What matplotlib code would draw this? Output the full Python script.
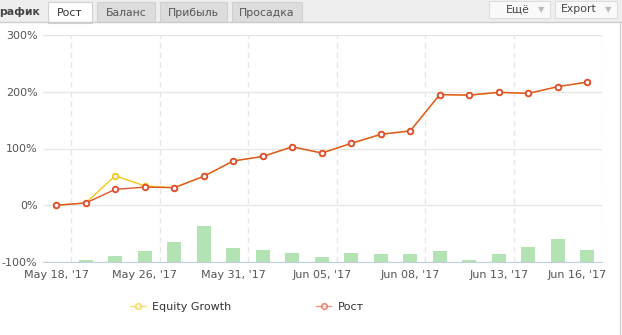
import matplotlib
matplotlib.use("Agg")
import matplotlib.pyplot as plt
import numpy as np
from matplotlib.patches import Rectangle
from matplotlib.lines import Line2D
from matplotlib.transforms import ScaledTranslation

# ---- data ----
growth = [0, 4, 28, 32, 31, 51, 78, 86, 103, 92, 109, 125, 131, 195, 194, 199, 197, 209, 217]
equity = [0, 4, 52, 34, 31, 51, 78, 86, 103, 92, 109, 125, 131, 195, 194, 199, 197, 209, 217]
bars = [0, 3, 10, 19, 35, 63, 24, 21, 16, 8, 16, 14, 14, 19, 4, 14, 26, 40, 21]
tick_idx = [0, 3, 6, 9, 12, 15, 18]
tick_labels = ["May 18, '17", "May 26, '17", "May 31, '17", "Jun 05, '17",
               "Jun 08, '17", "Jun 13, '17", "Jun 16, '17"]
yticks = [-100, 0, 100, 200, 300]
ytick_labels = ["-100%", "0%", "100%", "200%", "300%"]
tabs = ["Рост", "Баланс", "Прибыль", "Просадка"]

W, H = 622, 335
fig = plt.figure(figsize=(W / 100, H / 100), dpi=100)
fig.patch.set_facecolor("white")

def px(x, y):
    return x / W, 1 - y / H

# ---- top tab bar ----
fig.patches.append(Rectangle((0, 1 - 22 / H), 1, 22 / H, transform=fig.transFigure,
                             facecolor="#eeeeee", edgecolor="none", zorder=0))
fig.add_artist(Line2D([0, 1], [1 - 22 / H] * 2, transform=fig.transFigure, color="#cccccc", lw=1))
fig.add_artist(Line2D([620 / W] * 2, [0, 1 - 22 / H], transform=fig.transFigure, color="#d0d0d0", lw=1))
fig.text(*px(-1, 12), "рафик", fontsize=7.8, fontweight="bold", color="#444444",
         ha="left", va="center")
tab_x = [(48, 92), (97, 155), (160, 227), (232, 302)]
for i, (name, (x0, x1)) in enumerate(zip(tabs, tab_x)):
    fc = "white" if i == 0 else "#dcdcdc"
    y0 = 2
    y1 = 23 if i == 0 else 22
    fig.patches.append(Rectangle(px(x0, y1), (x1 - x0) / W, (y1 - y0) / H,
                                 transform=fig.transFigure, facecolor=fc,
                                 edgecolor="#d0d0d0", lw=0.8, zorder=1))
    fig.text(*px((x0 + x1) / 2, 12.5), name, fontsize=7.8,
             color="#333333" if i == 0 else "#555555", ha="center", va="center", zorder=2)
for (x0, x1, label) in [(489, 550, "Ещё"), (555, 617, "Export")]:
    fig.patches.append(Rectangle(px(x0, 18), (x1 - x0) / W, 17 / H, transform=fig.transFigure,
                                 facecolor="#f9f9f9", edgecolor="#dddddd", lw=0.8, zorder=1))
    fig.text(*px(x1 - 20, 9.5), label, fontsize=7.8, color="#444444",
             ha="right", va="center", zorder=2)
    fig.text(*px(x1 - 9, 9.5), "▼", fontsize=6, color="#bbbbbb",
             ha="center", va="center", zorder=2)

# ---- main plot ----
ax = fig.add_axes([43 / W, 1 - 262 / H, (602 - 43) / W, (262 - 35) / H])
x = np.arange(len(growth))
ax.bar(x, bars, bottom=-100, width=0.47, color="#b3e2b3", zorder=2)
ax.plot(x, equity, color="#f5c518", lw=1.0, marker="o", ms=4.0, mfc="white",
        mec="#f5c518", mew=1.3, zorder=3, label="Equity Growth")
ax.plot(x, growth, color="#e0552b", lw=1.0, marker="o", ms=4.0, mfc="white",
        mec="#e04a30", mew=1.3, zorder=4, label="Рост")

ax.set_xlim(-0.45, 18.5)
ax.set_ylim(-100, 300)
ax.set_yticks(yticks)
ax.set_yticklabels(ytick_labels)
ax.set_xticks(tick_idx)
ax.set_xticklabels(tick_labels)
ax.set_xticks(np.arange(0.5, 19, 3), minor=True)
ax.tick_params(axis="both", which="both", length=0, colors="#555555")
ax.tick_params(axis="y", labelsize=8, pad=4)
ax.tick_params(axis="x", labelsize=8, pad=6)
ax.grid(axis="y", which="major", color="#e6e6e6", lw=1, zorder=0)
ax.grid(axis="x", which="minor", color="#e6e6e6", lw=1, ls=(0, (4, 3)), zorder=0)
ax.grid(axis="x", which="major", visible=False)
for s in ["top", "left", "right"]:
    ax.spines[s].set_visible(False)
ax.spines["bottom"].set_color("#c0d0e0")
ax.set_axisbelow(True)
last = ax.get_xticklabels()[-1]
last.set_transform(last.get_transform() + ScaledTranslation(-0.10, 0, fig.dpi_scale_trans))

leg = ax.legend(loc="center left", bbox_to_anchor=(120 / W, 1 - 307 / H),
                bbox_transform=fig.transFigure, ncol=2, frameon=False, fontsize=8,
                handlelength=1.4, handletextpad=0.6, columnspacing=7.6)
for t in leg.get_texts():
    t.set_color("#333333")
for h in leg.legend_handles:
    h.set_alpha(0.6)

fig.savefig("out.png", dpi=100)
